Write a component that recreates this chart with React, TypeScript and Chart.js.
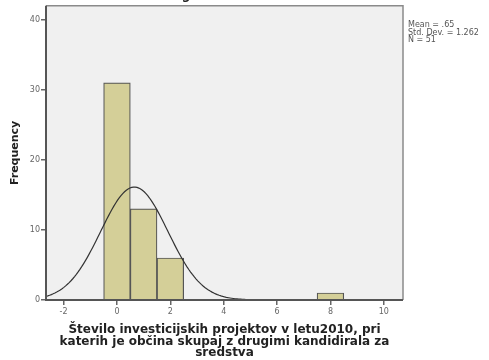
import React, { useEffect, useRef } from "react";
import { Chart, registerables } from "chart.js";

Chart.register(...registerables);

const binCenters = [0, 1, 2, 8];
const frequencies = [31, 13, 6, 1];
const xTicks = [-2, 0, 2, 4, 6, 8, 10];
const yTicks = [0, 10, 20, 30, 40];
const statLines = ["Mean = .65", "Std. Dev. = 1.262", "N = 51"];
const mean = 0.65;
const stdDev = 1.262;
const nCount = 51;
const binWidth = 1;
const xMin = -2.66;
const xMax = 10.72;
const yMax = 42;
const xTitleLines = [
  "Število investicijskih projektov v letu2010, pri",
  "katerih je občina skupaj z drugimi kandidirala za",
  "sredstva",
];
const topTitle = "drugimi kandidirala za sredstva";

// normal curve from stated Mean / Std. Dev. / N
const curveSteps = 200;
const curvePoints: { x: number; y: number }[] = [];
for (let i = 0; i <= curveSteps; i++) {
  const x = xMin + ((xMax - xMin) * i) / curveSteps;
  const z = (x - mean) / stdDev;
  const y = ((nCount * binWidth) / (stdDev * Math.sqrt(2 * Math.PI))) * Math.exp(-0.5 * z * z);
  curvePoints.push({ x, y });
}

const FONT = "'DejaVu Sans', sans-serif";

export default function App() {
  const ref = useRef<HTMLCanvasElement | null>(null);
  useEffect(() => {
    document.body.style.margin = "0";
    const canvas = ref.current!;
    const decor = {
      id: "decor",
      beforeDraw(chart: any) {
        const { ctx, chartArea: a } = chart;
        ctx.save();
        ctx.fillStyle = "#ffffff";
        ctx.fillRect(0, 0, chart.width, chart.height);
        ctx.fillStyle = "#f0f0f0";
        ctx.fillRect(a.left, a.top, a.right - a.left, a.bottom - a.top);
        ctx.restore();
      },
      afterDraw(chart: any) {
        const { ctx, chartArea: a } = chart;
        ctx.save();
        // top & right border
        ctx.strokeStyle = "#8a8a8a";
        ctx.lineWidth = 1.5;
        ctx.beginPath();
        ctx.moveTo(a.left, a.top);
        ctx.lineTo(a.right, a.top);
        ctx.lineTo(a.right, a.bottom);
        ctx.stroke();
        // left & bottom axis
        ctx.strokeStyle = "#555555";
        ctx.lineWidth = 2;
        ctx.beginPath();
        ctx.moveTo(a.left, a.top);
        ctx.lineTo(a.left, a.bottom);
        ctx.lineTo(a.right, a.bottom);
        ctx.stroke();
        // stats
        ctx.fillStyle = "#555555";
        ctx.font = `8px ${FONT}`;
        ctx.textAlign = "left";
        ctx.textBaseline = "middle";
        statLines.forEach((t, i) => ctx.fillText(t, a.right + 5, 25 + i * 7.5));
        // x title
        ctx.fillStyle = "#222222";
        ctx.font = `bold 12px ${FONT}`;
        ctx.textAlign = "center";
        const cx = (a.left + a.right) / 2;
        xTitleLines.forEach((t, i) => ctx.fillText(t, cx, 330 + i * 11.5));
        // top title (cut off)
        ctx.fillText(topTitle, 266, -4);
        // y title
        ctx.font = `bold 11px ${FONT}`;
        ctx.translate(15, (a.top + a.bottom) / 2);
        ctx.rotate(-Math.PI / 2);
        ctx.fillText("Frequency", 0, 0);
        ctx.restore();
      },
    };
    const chart = new Chart(canvas, {
      type: "bar",
      data: {
        datasets: [
          {
            type: "line",
            data: curvePoints,
            borderColor: "#333333",
            borderWidth: 1.2,
            pointRadius: 0,
            fill: false,
            order: 0,
          } as any,
          {
            type: "bar",
            data: binCenters.map((x, i) => ({ x, y: frequencies[i] })),
            backgroundColor: "#d4cf98",
            borderColor: "#555555",
            borderWidth: 1.2,
            barPercentage: 1,
            categoryPercentage: 1,
            order: 1,
          } as any,
        ],
      },
      plugins: [decor],
      options: {
        animation: false,
        responsive: false,
        devicePixelRatio: 1,
        layout: { padding: { left: 0, right: 86, top: 5, bottom: 0 } },
        plugins: { legend: { display: false }, tooltip: { enabled: false } },
        scales: {
          x: {
            type: "linear",
            min: xMin,
            max: xMax,
            offset: false,
            afterFit: (s: any) => { s.height = 60; },
            afterBuildTicks: (s: any) => { s.ticks = xTicks.map((v) => ({ value: v })); },
            ticks: { color: "#666666", font: { size: 8, family: FONT }, padding: 2, maxRotation: 0, autoSkip: false },
            grid: { display: true, offset: false, drawOnChartArea: false, drawTicks: true, tickLength: 5, color: "#666666", lineWidth: 1.5 },
            border: { display: false },
          },
          y: {
            type: "linear",
            min: 0,
            max: yMax,
            afterFit: (s: any) => { s.width = 46; },
            afterBuildTicks: (s: any) => { s.ticks = yTicks.map((v) => ({ value: v })); },
            ticks: { color: "#666666", font: { size: 8, family: FONT }, padding: 1 },
            grid: { display: true, offset: false, drawOnChartArea: false, drawTicks: true, tickLength: 5, color: "#666666", lineWidth: 1.5 },
            border: { display: false },
          },
        },
      } as any,
    });
    return () => chart.destroy();
  }, []);
  return <canvas ref={ref} width={489} height={360} style={{ display: "block" }} />;
}
